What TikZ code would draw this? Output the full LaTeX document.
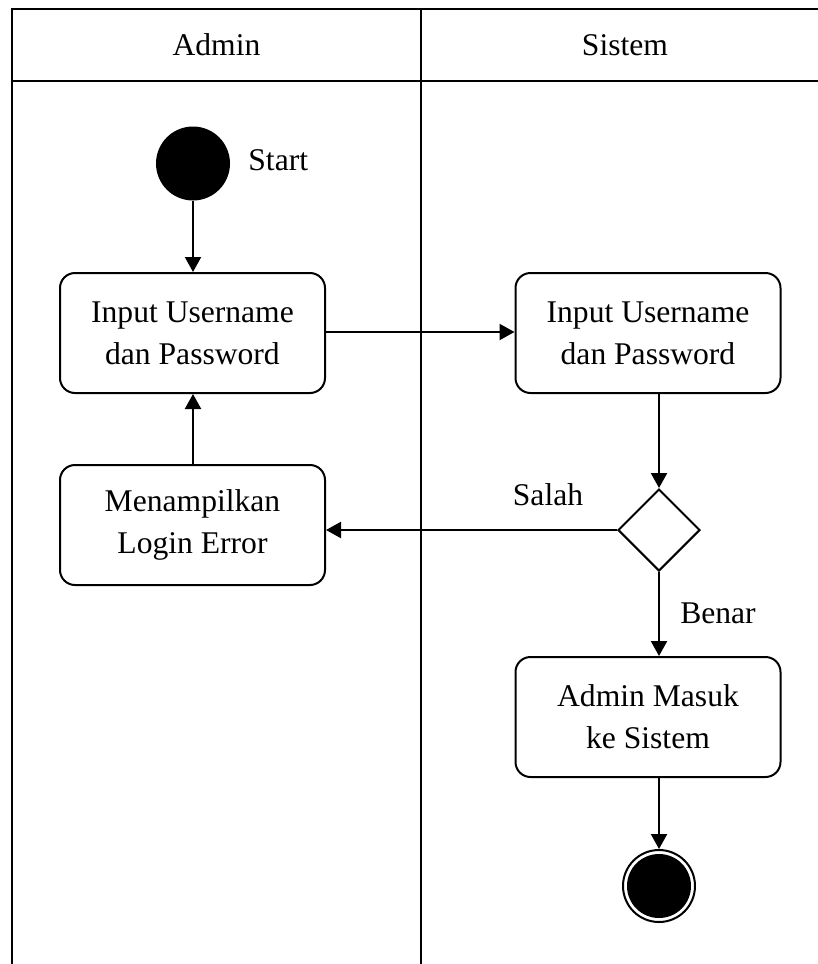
\documentclass[tikz,border=0pt]{standalone}
\usepackage{fontspec}
\setmainfont{Liberation Serif}
\usetikzlibrary{arrows.meta,shapes.geometric}
\tikzset{
  lane/.style={line width=1.1pt},
  act/.style={draw, line width=1pt, rounded corners=7.5pt, minimum width=132.5pt,
    minimum height=60pt, align=center, inner sep=0pt},
  decision/.style={draw, diamond, line width=1pt, minimum size=41pt, inner sep=0pt},
  flow/.style={line width=1.1pt, -{Triangle[length=7.5pt,width=8pt]}},
  lbl/.style={inner sep=0pt}
}
\begin{document}
\begin{tikzpicture}[x=0.5pt, y=-0.5pt, font=\fontsize{15.8pt}{21pt}\selectfont]
\useasboundingbox (0,0) rectangle (818,964);
% swimlane frame
\draw[lane] (12.3,964) -- (12.3,9) -- (830,9);
\draw[lane] (12.3,80.7) -- (830,80.7);
\draw[lane] (420.7,9) -- (420.7,964);
\node[lbl] (hadmin) at (216.5,45) {Admin};
\node[lbl] (hsistem) at (625,45) {Sistem};

% activities
\node[circle, fill=black, minimum size=37pt, inner sep=0pt] (start) at (193,163.5) {};
\node[lbl, anchor=west] (startlbl) at (248,160) {Start};
\node[act] (a1) at (192.5,333) {Input Username\\dan Password};
\node[act] (a2) at (192.5,525) {Menampilkan\\Login Error};
\node[act] (s1) at (648,333) {Input Username\\dan Password};
\node[decision] (dec) at (659,530) {};
\node[act] (s2) at (648,717) {Admin Masuk\\ke Sistem};
\node[circle, draw, line width=1pt, minimum size=36pt, inner sep=0pt,
  path picture={\fill[black] (path picture bounding box.center) circle (16pt);}] (end) at (659,886) {};

% control flow
\draw[flow] (start) -- (start |- a1.north);
\draw[flow] (a1.east |- 0,332) -- (s1.west |- 0,332);
\draw[flow] (s1.south -| dec.north) -- (dec.north);
\draw[flow] (dec.west) -- (a2.east |- dec.west);
\node[lbl] (salah) at (548,495) {Salah};
\draw[flow] (a2.north -| start) -- (a1.south -| start);
\draw[flow] (dec.south) -- (s2.north -| dec.south);
\node[lbl] (benar) at (718,613) {Benar};
\draw[flow] (s2.south -| end.north) -- (end.north);
\end{tikzpicture}
\end{document}
